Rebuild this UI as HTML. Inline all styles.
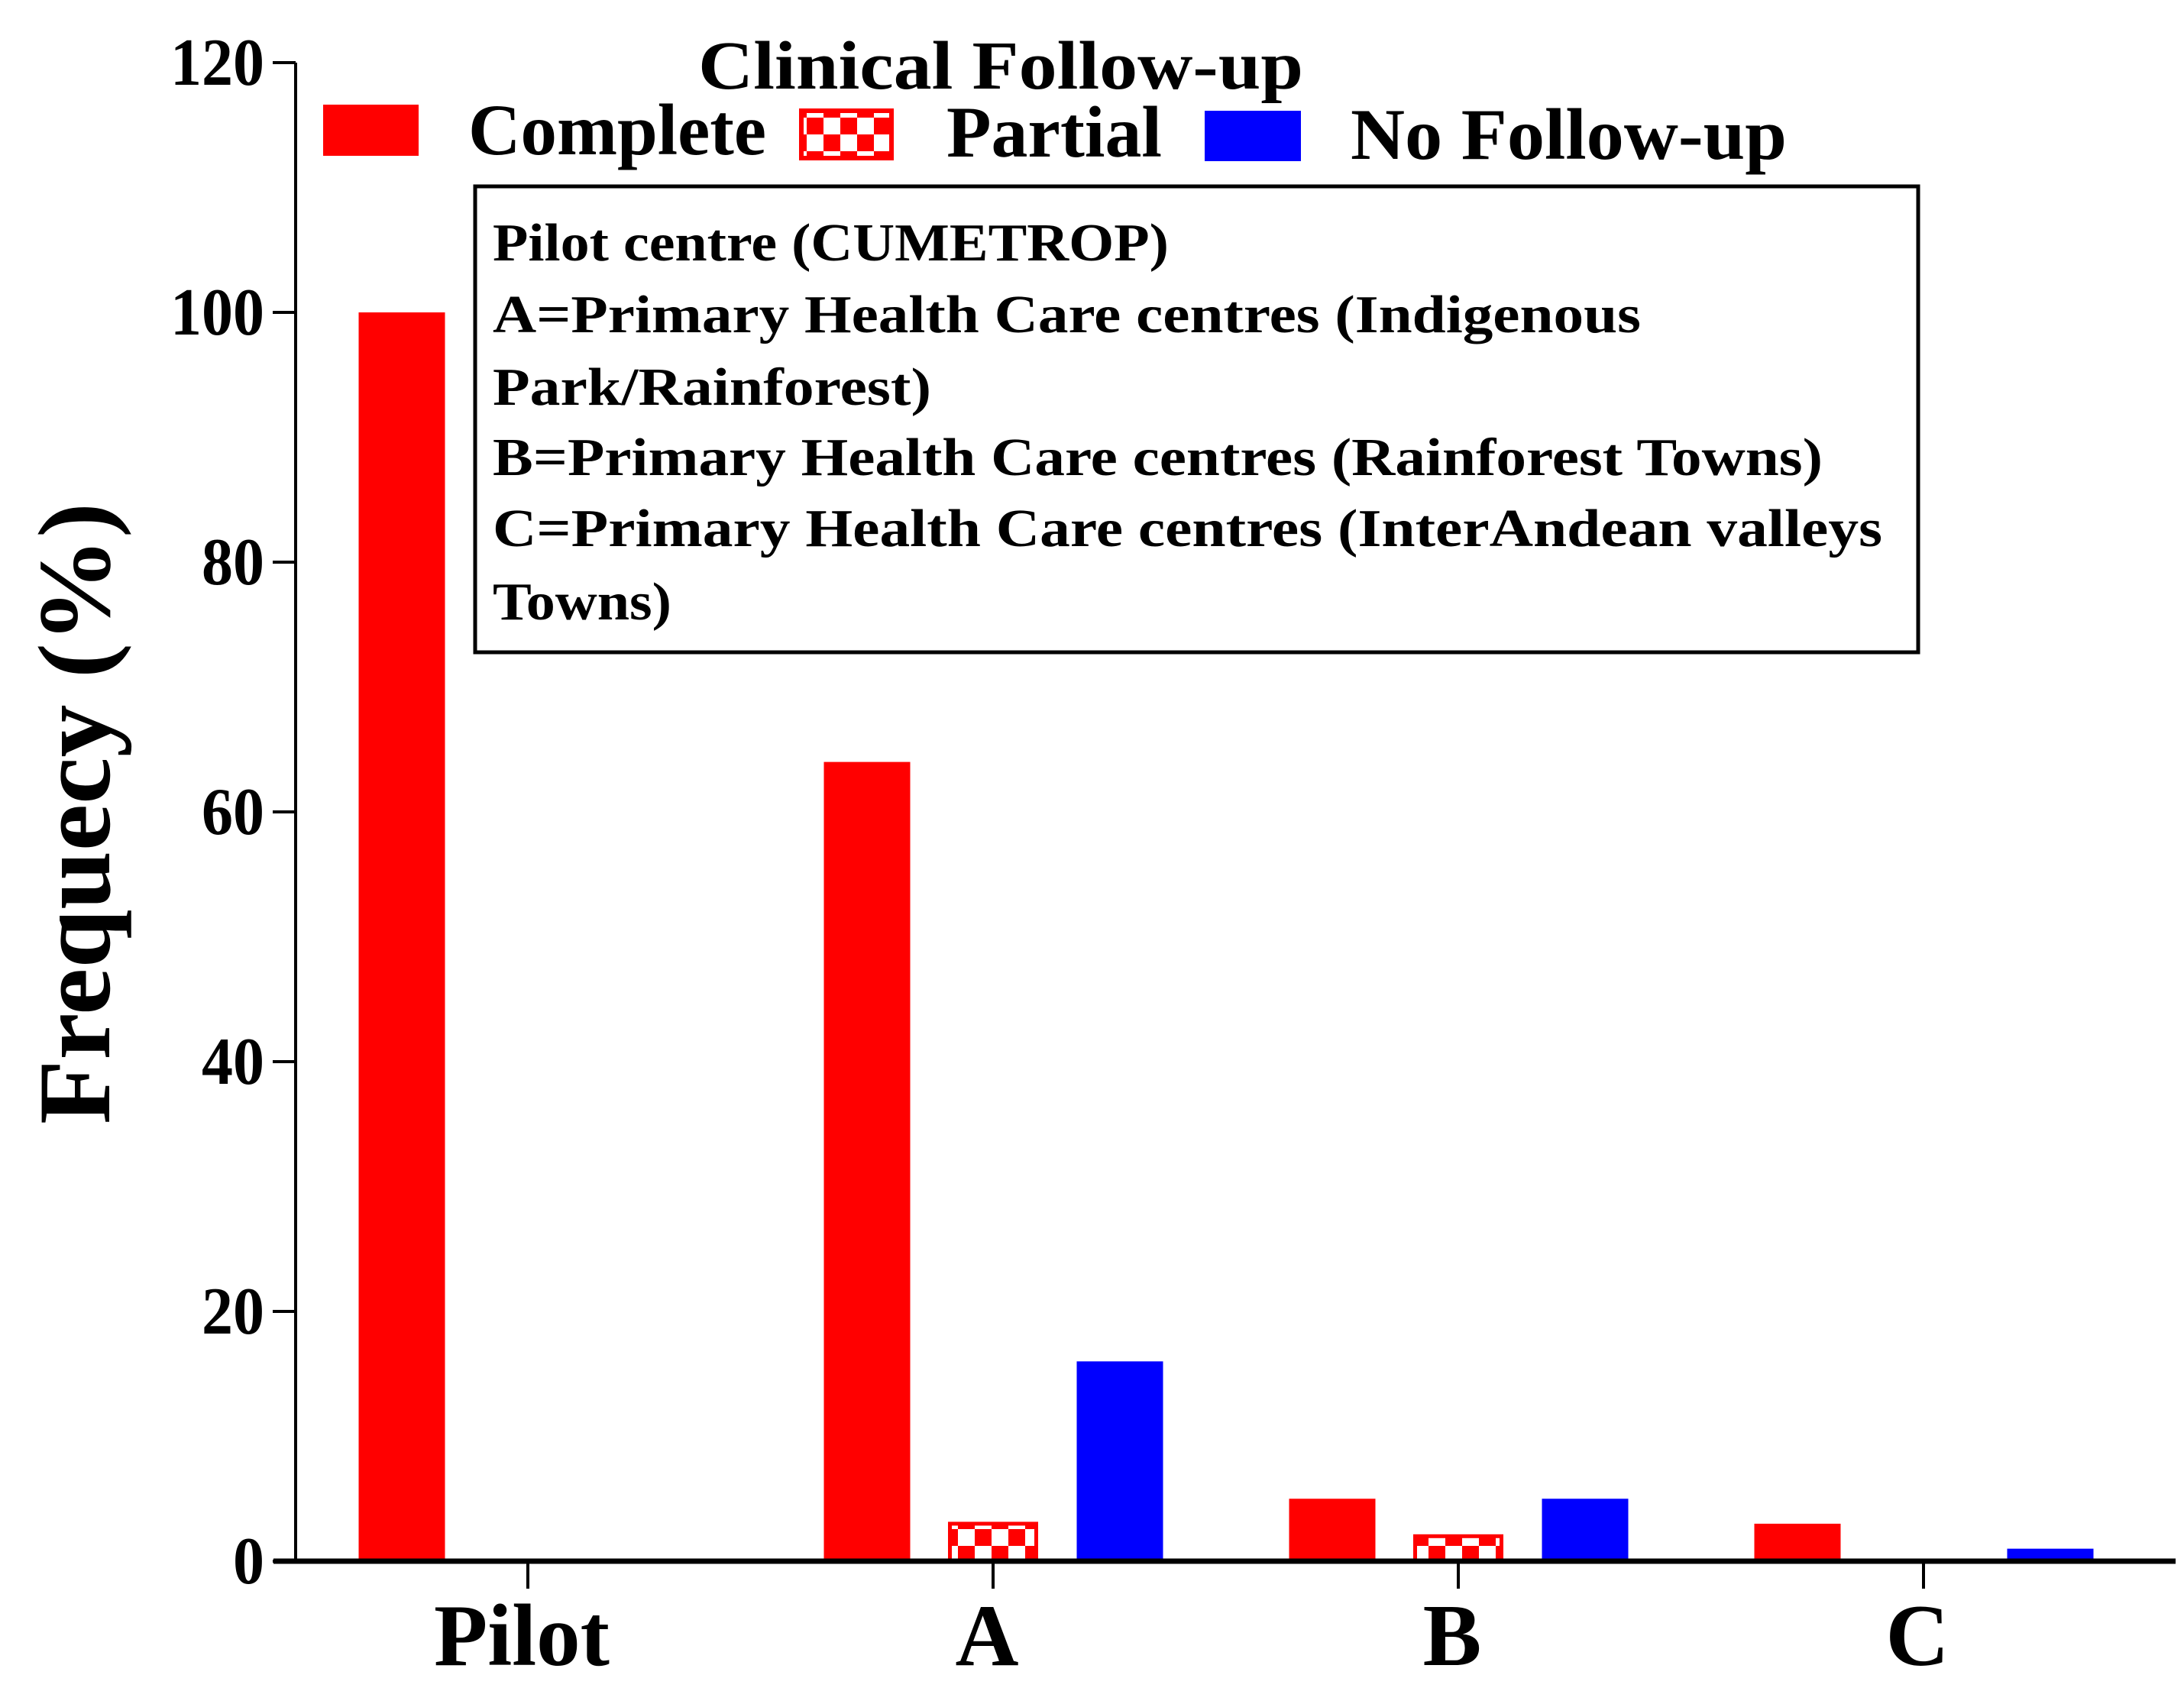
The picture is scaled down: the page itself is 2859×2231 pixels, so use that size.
<!DOCTYPE html>
<html><head><meta charset="utf-8"><style>
html,body{margin:0;padding:0;background:#fff;}
svg{display:block;font-family:"Liberation Serif",serif;font-weight:bold;}
</style></head><body>
<svg id="chart" width="2859" height="2231" viewBox="0 0 2859 2231" xmlns="http://www.w3.org/2000/svg">
<defs>
<pattern id="checker" patternUnits="userSpaceOnUse" width="44" height="44" x="0" y="0">
<rect width="44" height="44" fill="#ff0000"/>
<rect x="0" y="0" width="22" height="22" fill="#fff"/>
<rect x="22" y="22" width="22" height="22" fill="#fff"/>
</pattern>
</defs>
<g id="axes"></g>
<g id="bars"></g>
<g id="legend">
<text x="914" y="116" font-size="90" textLength="792" lengthAdjust="spacingAndGlyphs">Clinical Follow-up</text>
<rect x="423" y="137" width="125" height="67" fill="#ff0000"/>
<text x="613" y="202" font-size="95" textLength="390" lengthAdjust="spacingAndGlyphs">Complete</text>
<rect x="1049" y="145" width="118" height="62" fill="url(#checker)" stroke="#ff0000" stroke-width="6"/>
<text x="1239" y="205" font-size="95" textLength="282" lengthAdjust="spacingAndGlyphs">Partial</text>
<rect x="1577" y="145" width="126" height="66" fill="#0000ff"/>
<text x="1768" y="208" font-size="95" textLength="571" lengthAdjust="spacingAndGlyphs">No Follow-up</text>
</g>
<g id="note-box">
<rect x="622" y="244" width="1889" height="610" fill="none" stroke="#000" stroke-width="5"/>
<text x="645" y="341" font-size="70" textLength="885" lengthAdjust="spacingAndGlyphs">Pilot centre (CUMETROP)</text>
<text x="645" y="435" font-size="70" textLength="1503" lengthAdjust="spacingAndGlyphs">A=Primary Health Care centres (Indigenous</text>
<text x="645" y="530" font-size="70" textLength="574" lengthAdjust="spacingAndGlyphs">Park/Rainforest)</text>
<text x="645" y="622" font-size="70" textLength="1741" lengthAdjust="spacingAndGlyphs">B=Primary Health Care centres (Rainforest Towns)</text>
<text x="645" y="715" font-size="70" textLength="1819" lengthAdjust="spacingAndGlyphs">C=Primary Health Care centres (InterAndean valleys</text>
<text x="645" y="811" font-size="70" textLength="234" lengthAdjust="spacingAndGlyphs">Towns)</text>
</g>
<text transform="translate(143,1472) rotate(-90)" font-size="135" textLength="814" lengthAdjust="spacingAndGlyphs">Frequecy (%)</text>
</svg>
<script>
const categories = ["Pilot", "A", "B", "C"];
const completeValues = [100, 64, 5, 3];
const partialValues = [0, 3, 2, 0];
const noFollowValues = [0, 16, 5, 1];
const yTicks = [0, 20, 40, 60, 80, 100, 120];

const NS = "http://www.w3.org/2000/svg";
const y0 = 2044, yTop = 82, yMax = 120;
function yScale(v){ return y0 - (v / yMax) * (y0 - yTop); }
const xFirst = 691, xStep = 609;
function xScale(i){ return xFirst + i * xStep; }
const barW = 113;
function mk(tag, attrs, parent){
  const e = document.createElementNS(NS, tag);
  for (const k in attrs) e.setAttribute(k, attrs[k]);
  parent.appendChild(e);
  return e;
}
const axes = document.getElementById('axes');
const bars = document.getElementById('bars');

const yAxis = mk('line', {x1:387, y1:yTop, x2:387, y2:y0, stroke:'#000', 'stroke-width':4}, axes);


yTicks.forEach(t => {
  const yy = yScale(t);
  const tk = mk('line', {x1:357, y1:yy, x2:387, y2:yy, stroke:'#000', 'stroke-width':4}, axes);
  
  
  const attrs = {x:346, y:yy + 29, 'font-size':88, 'text-anchor':'end', lengthAdjust:'spacingAndGlyphs'};
  attrs.textLength = String(t).length * 41;
  const lb = mk('text', attrs, axes);
  
  
  lb.textContent = String(t);
});

const series = [
  {vals: completeValues, off: -165, fill: '#ff0000', name: 'complete'},
  {vals: partialValues, off: 0, fill: 'url(#checker)', name: 'partial'},
  {vals: noFollowValues, off: 166, fill: '#0000ff', name: 'no-follow-up'}
];
categories.forEach((c, i) => {
  const cx = xScale(i);
  series.forEach(s => {
    const v = s.vals[i];
    if (v <= 0) return;
    const top = yScale(v);
    const attrs = {x: cx + s.off - barW/2, y: top, width: barW, height: y0 - top, fill: s.fill};
    if (s.name === 'partial') { attrs.stroke = '#ff0000'; attrs['stroke-width'] = 5; }
    const r = mk('rect', attrs, bars);
    
    
  });
  const tk = mk('line', {x1:cx, y1:y0, x2:cx, y2:2080, stroke:'#000', 'stroke-width':4}, axes);
  
  
  const lb = mk('text', {x:cx - 8, y:2180, 'font-size':115, 'text-anchor':'middle'}, axes);
  
  
  lb.textContent = c;
});
const xAxis = mk('line', {x1:358, y1:y0, x2:2848, y2:y0, stroke:'#000', 'stroke-width':7}, bars);


</script>
</body></html>
